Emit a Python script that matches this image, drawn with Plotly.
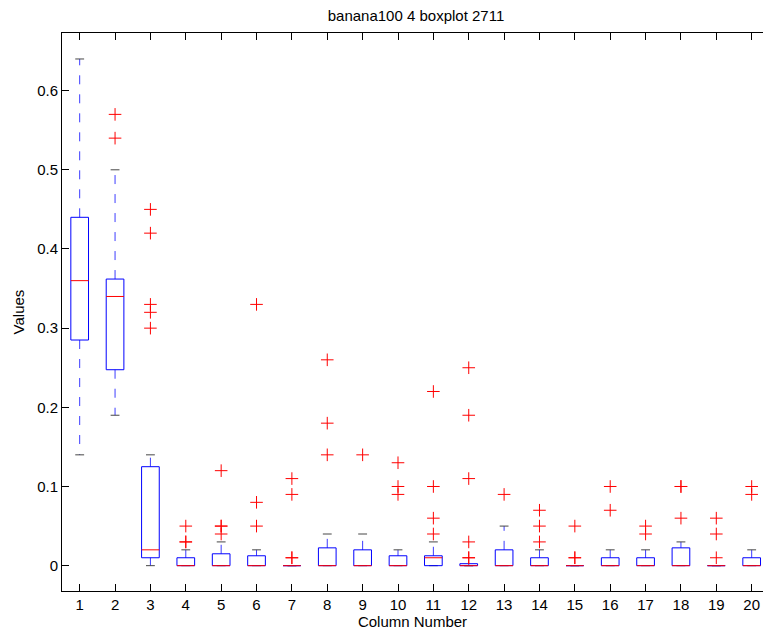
import plotly.graph_objects as go

# Box statistics per column (quartiles, whisker ends) and outliers
columns = list(range(1, 21))
q1 = [0.285, 0.2475, 0.01, 0, 0, 0, 0, 0, 0, 0, 0, 0, 0, 0, 0, 0, 0, 0, 0, 0]
median = [0.36, 0.34, 0.02, 0, 0, 0, 0, 0, 0, 0, 0.01, 0, 0, 0, 0, 0, 0, 0, 0, 0]
q3 = [0.44, 0.362, 0.125, 0.01, 0.015, 0.0125, 0, 0.0225, 0.02, 0.0125,
      0.0125, 0.0025, 0.02, 0.01, 0, 0.01, 0.01, 0.0225, 0, 0.01]
lower_whisker = [0.14, 0.19, 0, 0, 0, 0, 0, 0, 0, 0, 0, 0, 0, 0, 0, 0, 0, 0, 0, 0]
upper_whisker = [0.64, 0.5, 0.14, 0.02, 0.03, 0.02, 0, 0.04, 0.04, 0.02,
                 0.03, 0, 0.05, 0.02, 0, 0.02, 0.02, 0.03, 0, 0.02]
outliers = [
    [],
    [0.57, 0.54],
    [0.45, 0.42, 0.33, 0.32, 0.30],
    [0.05, 0.03, 0.03],
    [0.12, 0.05, 0.05, 0.04],
    [0.33, 0.08, 0.05],
    [0.11, 0.09, 0.01, 0.01],
    [0.26, 0.18, 0.14],
    [0.14],
    [0.13, 0.10, 0.09],
    [0.22, 0.10, 0.06, 0.04],
    [0.25, 0.19, 0.11, 0.03, 0.01, 0.01],
    [0.09],
    [0.07, 0.05, 0.03],
    [0.05, 0.01, 0.01],
    [0.10, 0.07],
    [0.05, 0.04],
    [0.10, 0.10, 0.06],
    [0.06, 0.04, 0.01],
    [0.10, 0.09],
]
y_ticks = [0, 0.1, 0.2, 0.3, 0.4, 0.5, 0.6]
y_tick_labels = ["0", "0.1", "0.2", "0.3", "0.4", "0.5", "0.6"]

BOX_HALF = 0.25
CAP_HALF = 0.125
FONT = "Liberation Sans, Arial, Helvetica, sans-serif"

wx, wy = [], []          # dashed whiskers
cx, cy = [], []          # whisker caps
bx, by = [], []          # box outlines
mx, my = [], []          # median lines
ox, oy = [], []          # outlier markers
for i, c in enumerate(columns):
    wx += [c, c, None, c, c, None]
    wy += [q3[i], upper_whisker[i], None, q1[i], lower_whisker[i], None]
    cx += [c - CAP_HALF, c + CAP_HALF, None, c - CAP_HALF, c + CAP_HALF, None]
    cy += [upper_whisker[i], upper_whisker[i], None,
           lower_whisker[i], lower_whisker[i], None]
    bx += [c - BOX_HALF, c + BOX_HALF, c + BOX_HALF, c - BOX_HALF, c - BOX_HALF, None]
    by += [q1[i], q1[i], q3[i], q3[i], q1[i], None]
    mx += [c - BOX_HALF, c + BOX_HALF, None]
    my += [median[i], median[i], None]
    for v in outliers[i]:
        ox.append(c)
        oy.append(v)

fig = go.Figure()
fig.add_trace(go.Scatter(x=wx, y=wy, mode="lines", hoverinfo="skip",
                         line=dict(color="rgb(60,60,255)", width=1, dash="9px,10px")))
fig.add_trace(go.Scatter(x=cx, y=cy, mode="lines", hoverinfo="skip",
                         line=dict(color="rgb(70,70,70)", width=1)))
fig.add_trace(go.Scatter(x=bx, y=by, mode="lines", hoverinfo="skip",
                         line=dict(color="rgb(0,0,255)", width=1)))
fig.add_trace(go.Scatter(x=mx, y=my, mode="lines", hoverinfo="skip",
                         line=dict(color="rgb(255,0,0)", width=1)))
fig.add_trace(go.Scatter(x=ox, y=oy, mode="markers", hoverinfo="skip",
                         marker=dict(symbol="cross-thin", size=9,
                                     line=dict(color="rgb(255,0,0)", width=1))))

fig.update_layout(
    width=763, height=634,
    margin=dict(l=62, r=0, t=33, b=43),
    paper_bgcolor="white", plot_bgcolor="white",
    showlegend=False,
    font=dict(family=FONT, size=15, color="black"),
    title=dict(text="banana100 4 boxplot 2711", xref="container", x=416 / 763,
               xanchor="center", yref="container", y=1 - 16 / 634, yanchor="middle",
               font=dict(family=FONT, size=15, color="black")),
)
fig.update_xaxes(
    range=[0.5, 20.32], tickmode="array", tickvals=columns,
    ticktext=[str(c) for c in columns],
    ticks="inside", ticklen=7, tickwidth=1, tickcolor="black",
    showline=True, linecolor="black", linewidth=1, mirror="ticks",
    showgrid=False, zeroline=False,
    title=dict(text="Column Number", standoff=4, font=dict(size=15)),
)
fig.update_yaxes(
    range=[-0.032, 0.6728], tickmode="array", tickvals=y_ticks,
    ticktext=y_tick_labels,
    ticks="inside", ticklen=7, tickwidth=1, tickcolor="black",
    showline=True, linecolor="black", linewidth=1, mirror=False,
    showgrid=False, zeroline=False,
    title=dict(text="Values", standoff=8, font=dict(size=15)),
)

fig.write_html("out.html")
